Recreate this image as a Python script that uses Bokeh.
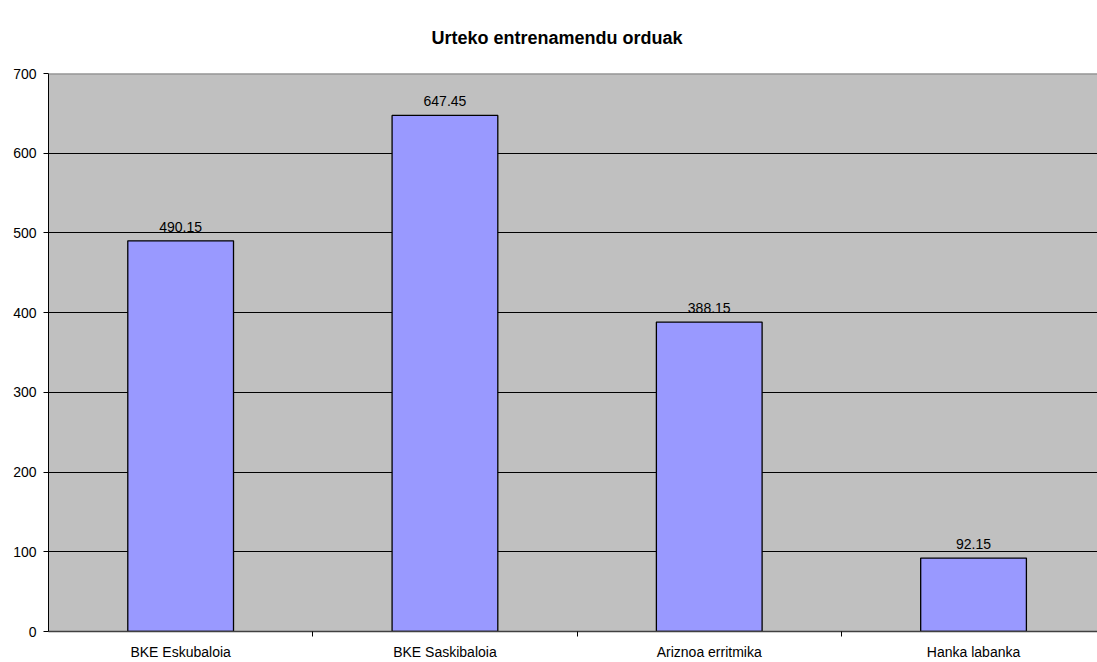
from bokeh.plotting import figure
from bokeh.models import Range1d, FixedTicker, ColumnDataSource, Span, LabelSet
from bokeh.core.properties import value
from bokeh.embed import file_html
from bokeh.resources import INLINE

title_text = "Urteko entrenamendu orduak"
categories = ["BKE Eskubaloia", "BKE Saskibaloia", "Ariznoa erritmika", "Hanka labanka"]
hours = [490.15, 647.45, 388.15, 92.15]
y_ticks = [0, 100, 200, 300, 400, 500, 600, 700]

xs = [i + 0.5 for i in range(len(categories))]
labels = [f"{v:.2f}" for v in hours]
src = ColumnDataSource(dict(x=xs, top=hours, lab=labels))

FONT = "Liberation Sans"

p = figure(width=1097, height=662, output_backend="svg", toolbar_location=None,
           x_range=Range1d(0, 3.969), y_range=Range1d(0, 700),
           min_border_left=48, min_border_right=0, min_border_top=73, min_border_bottom=30,
           title=title_text)
p.title.text_font = FONT
p.title.text_font_size = "18px"
p.title.text_font_style = "bold"
p.title.text_color = "black"
p.title.align = "left"
p.title.offset = 383
p.title.vertical_align = "top"
p.title.standoff = 48

p.background_fill_color = "#C0C0C0"
p.border_fill_color = "white"
p.outline_line_color = None

p.vbar(x="x", top="top", width=0.4, bottom=0, source=src,
       fill_color="#9999FF", line_color="black", line_width=1.3)

p.add_layout(LabelSet(x="x", y="top", text="lab", source=src, text_align="center",
                      text_baseline="alphabetic", y_offset=9, text_font_size="14px",
                      text_font=value(FONT), text_color="black"))

# x axis
p.xaxis.ticker = FixedTicker(ticks=xs, minor_ticks=[1, 2, 3])
p.xaxis.major_label_overrides = {x: c for x, c in zip(xs, categories)}
p.xaxis.major_tick_line_color = None
p.xaxis.major_tick_out = 0
p.xaxis.major_tick_in = 0
p.xaxis.minor_tick_line_color = "black"
p.xaxis.minor_tick_out = 5
p.xaxis.minor_tick_in = 0
p.xaxis.major_label_standoff = 7
p.xaxis.major_label_text_font = FONT
p.xaxis.major_label_text_font_size = "14px"
p.xaxis.major_label_text_color = "black"
p.xaxis.axis_line_color = "#404040"
p.xaxis.axis_line_width = 1.5

# y axis
p.yaxis.ticker = FixedTicker(ticks=y_ticks)
p.yaxis.minor_tick_line_color = None
p.yaxis.major_tick_out = 5
p.yaxis.major_tick_in = 0
p.yaxis.major_tick_line_color = "black"
p.yaxis.major_label_standoff = 7
p.yaxis.major_label_text_font = FONT
p.yaxis.major_label_text_font_size = "14px"
p.yaxis.major_label_text_color = "black"
p.yaxis.axis_line_color = "black"

p.xgrid.grid_line_color = None
p.ygrid.ticker = FixedTicker(ticks=y_ticks[1:-1])
p.ygrid.grid_line_color = "black"
p.ygrid.grid_line_width = 1

p.add_layout(Span(location=700, dimension="width", line_color="#808080", line_width=2))

open("out.html", "w").write(file_html(p, INLINE))
